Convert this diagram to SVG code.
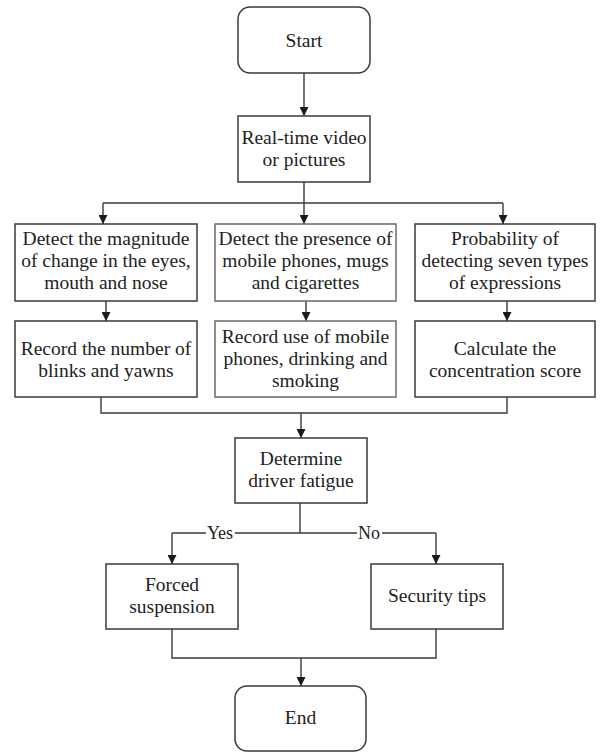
<svg xmlns="http://www.w3.org/2000/svg" width="601" height="752" viewBox="0 0 601 752">
<style>
.box{fill:#fff;stroke:#3a3a3a;stroke-width:1.5}
.lite{stroke:#6a6a6a}
.t{font-family:"Liberation Serif","Times New Roman",serif;font-size:19.5px;fill:#222;text-anchor:middle}
.lbl{font-family:"Liberation Serif","Times New Roman",serif;font-size:18px;fill:#222;text-anchor:middle}
.c{fill:none;stroke:#3a3a3a;stroke-width:1.4}
.a{marker-end:url(#arr)}
</style>
<defs>
<marker id="arr" viewBox="0 0 10 10" refX="10" refY="5" markerWidth="9" markerHeight="9" markerUnits="userSpaceOnUse" orient="auto">
<path d="M0,0 L10,5 L0,10 z" fill="#1a1a1a"/>
</marker>
</defs>
<rect width="601" height="752" fill="#fff"/>
<g id="connectors">
<path class="c a" d="M304,73 V116"/>
<path class="c" d="M304,182 V203 M103,203 H503"/>
<path class="c a" d="M103,203 V224"/>
<path class="c a" d="M304,203 V224"/>
<path class="c a" d="M503,203 V224"/>
<path class="c a" d="M106,301 V321"/>
<path class="c a" d="M306,301 V321"/>
<path class="c a" d="M507,301 V321"/>
<path class="c" d="M101,397 V413 H507 V397"/>
<path class="c a" d="M301,413 V438"/>
<path class="c" d="M300,503 V533 M172,533 H436"/>
<path class="c a" d="M172,533 V564"/>
<path class="c a" d="M436,533 V564"/>
<path class="c" d="M172,629 V658 H436 V629"/>
<path class="c a" d="M301,658 V686"/>
<rect x="206" y="523" width="29" height="20" fill="#fff"/>
<rect x="357" y="523" width="25" height="20" fill="#fff"/>
<text class="lbl" x="220" y="539">Yes</text>
<text class="lbl" x="369" y="539">No</text>
</g>
<g id="start">
<rect class="box" x="238" y="7" width="132" height="66" rx="12"/>
<text class="t" x="304" y="47">Start</text>
</g>
<g id="input">
<rect class="box" x="238" y="116" width="132" height="66"/>
<text class="t" x="304" y="143.5">Real-time video</text>
<text class="t" x="304" y="165.5">or pictures</text>
</g>
<g id="detect-face">
<rect class="box" x="15" y="224" width="182" height="77"/>
<text class="t" x="106" y="244.5">Detect the magnitude</text>
<text class="t" x="106" y="266.5">of change in the eyes,</text>
<text class="t" x="106" y="288.5">mouth and nose</text>
</g>
<g id="detect-objects">
<rect class="box lite" x="215" y="224" width="181" height="77"/>
<text class="t" x="305.5" y="244.5">Detect the presence of</text>
<text class="t" x="305.5" y="266.5">mobile phones, mugs</text>
<text class="t" x="305.5" y="288.5">and cigarettes</text>
</g>
<g id="detect-expr">
<rect class="box" x="415" y="224" width="180" height="77"/>
<text class="t" x="505" y="244.5">Probability of</text>
<text class="t" x="505" y="266.5">detecting seven types</text>
<text class="t" x="505" y="288.5">of expressions</text>
</g>
<g id="record-blinks">
<rect class="box" x="15" y="321" width="182" height="76"/>
<text class="t" x="106" y="354.5">Record the number of</text>
<text class="t" x="106" y="376.5">blinks and yawns</text>
</g>
<g id="record-use">
<rect class="box lite" x="215" y="321" width="181" height="76"/>
<text class="t" x="305.5" y="342.5">Record use of mobile</text>
<text class="t" x="305.5" y="364.5">phones, drinking and</text>
<text class="t" x="305.5" y="386.5">smoking</text>
</g>
<g id="score">
<rect class="box" x="415" y="321" width="180" height="76"/>
<text class="t" x="505" y="354.5">Calculate the</text>
<text class="t" x="505" y="376.5">concentration score</text>
</g>
<g id="determine">
<rect class="box" x="235" y="438" width="132" height="65"/>
<text class="t" x="301" y="465">Determine</text>
<text class="t" x="301" y="487">driver fatigue</text>
</g>
<g id="forced">
<rect class="box" x="106" y="564" width="132" height="65"/>
<text class="t" x="172" y="591">Forced</text>
<text class="t" x="172" y="613">suspension</text>
</g>
<g id="tips">
<rect class="box" x="371" y="564" width="132" height="65"/>
<text class="t" x="437" y="602">Security tips</text>
</g>
<g id="end">
<rect class="box" x="235" y="686" width="131" height="65" rx="12"/>
<text class="t" x="300.5" y="724">End</text>
</g>
</svg>
